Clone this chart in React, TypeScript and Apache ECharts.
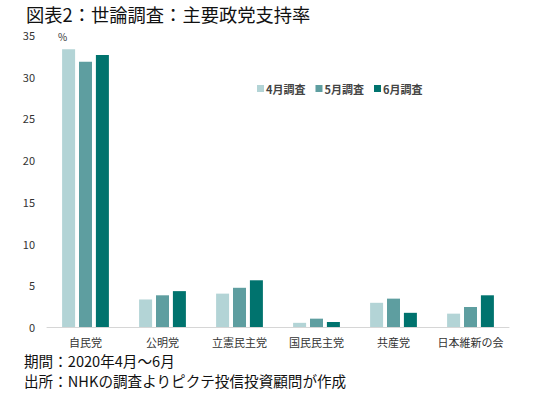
import React, { useEffect, useRef } from "react";
import * as echarts from "echarts";

const categories = ["自民党", "公明党", "立憲民主党", "国民民主党", "共産党", "日本維新の会"];
const seriesNames = ["4月調査", "5月調査", "6月調査"];
const april = [33.3, 3.3, 4.0, 0.5, 2.9, 1.6];
const may = [31.8, 3.8, 4.7, 1.0, 3.4, 2.4];
const june = [32.6, 4.3, 5.6, 0.6, 1.7, 3.8];
const colors = ["#b3d4d6", "#5e9ea0", "#00736e"];
const titleText = "図表2：世論調査：主要政党支持率";
const note1 = "期間：2020年4月～6月";
const note2 = "出所：NHKの調査よりピクテ投信投資顧問が作成";

export default function App() {
  const ref = useRef<HTMLDivElement>(null);
  useEffect(() => {
    const chart = echarts.init(ref.current!, null, { renderer: "svg" });
    const data = [april, may, june];
    chart.setOption({
      animation: false,
      backgroundColor: "#ffffff",
      textStyle: { fontFamily: "Noto Sans CJK JP" },
      title: {
        text: titleText,
        left: 21,
        top: 0,
        textStyle: { fontSize: 18.3, fontWeight: "normal", color: "#111", fontFamily: "Noto Sans CJK JP" },
      },
      legend: {
        data: seriesNames,
        left: 252,
        top: 78,
        itemWidth: 7,
        itemHeight: 7,
        itemGap: 10,
        icon: "rect",
        textStyle: { fontSize: 11, color: "#444", fontWeight: "bold", padding: [0, 0, 0, -3] },
      },
      grid: { left: 47, right: 41, top: 35, bottom: 71, containLabel: false },
      xAxis: {
        type: "category",
        data: categories,
        axisLine: { lineStyle: { color: "#d6d6d6", width: 1 } },
        axisTick: { show: false },
        axisLabel: { fontSize: 11, color: "#333", margin: 9, interval: 0 },
      },
      yAxis: {
        type: "value",
        min: 0,
        max: 35,
        interval: 5,
        splitLine: { show: false },
        axisLine: { show: false },
        axisTick: { show: false },
        axisLabel: { fontSize: 11, color: "#333", margin: 12 },
      },
      series: seriesNames.map((name, i) => ({
        name,
        type: "bar",
        data: data[i],
        barWidth: 13,
        barGap: "30%",
        itemStyle: { color: colors[i] },
      })),
      graphic: [
        { type: "text", left: 58, top: 31, style: { text: "%", fontSize: 10, fill: "#333", fontFamily: "Noto Sans CJK JP" } },
        { type: "text", left: 24, top: 353, style: { text: note1, fontSize: 14.6, fill: "#111", fontFamily: "Noto Sans CJK JP" } },
        { type: "text", left: 24, top: 373, style: { text: note2, fontSize: 14.6, fill: "#111", fontFamily: "Noto Sans CJK JP" } },
      ],
    });
    return () => chart.dispose();
  }, []);
  return <div ref={ref} style={{ width: 550, height: 398, position: "absolute", left: 0, top: 0 }} />;
}
